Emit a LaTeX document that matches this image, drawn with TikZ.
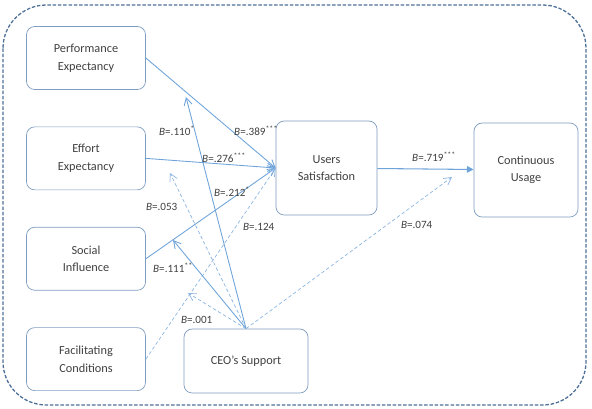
\documentclass[tikz,border=0pt]{standalone}
\usepackage{fontspec}
\setmainfont{Carlito}
\usetikzlibrary{arrows.meta,positioning}
\definecolor{boxline}{HTML}{7F9DC0}
\definecolor{pathblue}{HTML}{6FA4DA}
\definecolor{nspath}{HTML}{8DB6E2}
\definecolor{frameblue}{HTML}{4E7098}
\definecolor{txtgray}{HTML}{404040}
\tikzset{
    varbox/.style={draw=boxline, rounded corners=7pt, align=center,
        font=\fontsize{10.5}{15}\selectfont, text=txtgray, line width=0.6pt,
        minimum width=3.57cm, minimum height=1.89cm},
    sigarrow/.style={-{Straight Barb[length=2.2mm, width=2.4mm]}, draw=pathblue, line width=0.75pt},
    nsarrow/.style={-{Straight Barb[length=2.2mm, width=2.4mm]}, draw=nspath, line width=0.6pt,
        dash pattern=on 3pt off 2pt},
    mainarrow/.style={-{Triangle[length=2mm, width=2mm]}, draw=pathblue, line width=0.9pt},
    coef/.style={font=\fontsize{9.5}{11}\selectfont, text=txtgray, inner sep=1pt}
}
\newcommand{\bcoef}[2]{{\itshape B}=#1\textsuperscript{#2}}

\begin{document}
\begin{tikzpicture}[x=0.03cm, y=-0.03cm, node distance=1.1cm]
\useasboundingbox (0,0) rectangle (592,408);
% frame
\draw[frameblue, line width=1.1pt, dash pattern=on 3pt off 1.5pt, rounded corners=1.3cm]
    (3,5) rectangle (586,405);

% constructs
\node[varbox] (pe) at (86,58) {Performance\\Expectancy};
\node[varbox, below=of pe] (ee) {Effort\\Expectancy};
\node[varbox, below=of ee] (si) {Social\\Influence};
\node[varbox, below=of si] (fc) {Facilitating\\Conditions};
\node[varbox, minimum width=3.72cm, minimum height=1.92cm] (ceo) at (246,361) {CEO's Support};
\node[varbox, minimum width=3.03cm, minimum height=2.82cm] (us) at (326.5,168) {Users\\Satisfaction};
\node[varbox, minimum width=3.12cm, minimum height=2.82cm] (cu) at (526,170) {Continuous\\Usage};

% moderation targets
\coordinate (mpe) at (186,97);
\coordinate (mee) at (170,173);
\coordinate (msi) at (173,240);
\coordinate (mfc) at (188,293);
\coordinate (mcu) at (452,177);

% paths
\draw[sigarrow] (pe.east) -- (us.west);
\draw[sigarrow] (ee.east) -- (us.west);
\draw[sigarrow] (si.east) -- (us.west);
\draw[nsarrow] (fc.east) -- (us.west);
\draw[mainarrow] (us) -- (cu);

\draw[sigarrow] (ceo.north) -- (mpe);
\draw[nsarrow] (ceo.north) -- (mee);
\draw[sigarrow] (ceo.north) -- (msi);
\draw[nsarrow] (ceo.north) -- (mfc);
\draw[nsarrow] (ceo.north) -- (mcu);

% coefficients
\node[coef] (b1) at (177,131) {\bcoef{.110}{*}};
\node[coef] (b2) at (256,131) {\bcoef{.389}{***}};
\node[coef] (b3) at (224,158) {\bcoef{.276}{***}};
\node[coef] (b4) at (232,192) {\bcoef{.212}{*}};
\node[coef] (b5) at (162,207) {\bcoef{.053}{}};
\node[coef] (b6) at (259,227) {\bcoef{.124}{}};
\node[coef] (b7) at (173,268) {\bcoef{.111}{**}};
\node[coef] (b8) at (197,320) {\bcoef{.001}{}};
\node[coef] (b9) at (434,157) {\bcoef{.719}{***}};
\node[coef] (b10) at (417,225) {\bcoef{.074}{}};
\end{tikzpicture}
\end{document}
